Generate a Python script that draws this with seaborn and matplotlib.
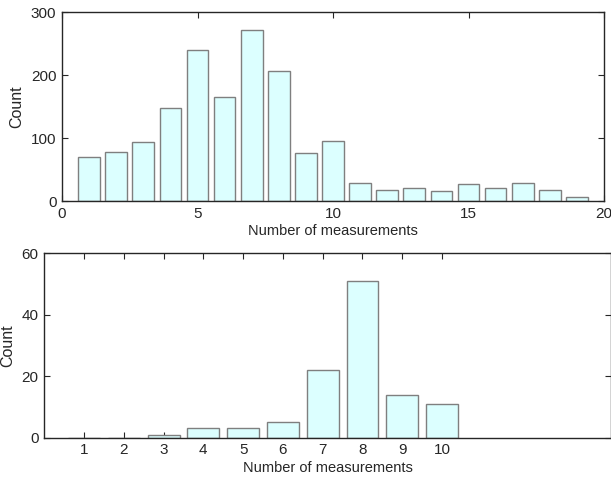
import matplotlib
matplotlib.use("Agg")
import matplotlib.pyplot as plt
import seaborn as sns
import pandas as pd

# data
top_x = list(range(1, 20))
top_counts = [70, 77, 94, 148, 240, 165, 272, 207, 76, 95, 29, 18, 21, 16, 27, 20, 28, 17, 7]
bot_x = list(range(1, 11))
bot_counts = [0, 0, 1, 3, 3, 5, 22, 51, 14, 11]
top_xticks = [0, 5, 10, 15, 20]
top_yticks = [0, 100, 200, 300]
bot_yticks = [0, 20, 40, 60]
xlabel = "Number of measurements"
ylabel = "Count"

sns.set_style("ticks")
plt.rcParams['font.family'] = ['Liberation Sans', 'DejaVu Sans']
plt.rcParams['font.size'] = 10.5
txt = '#262626'

fig = plt.figure(figsize=(6.11, 4.82), dpi=100)
ax1 = fig.add_axes([62/611, 1-201/482, (604-62)/611, (201-12)/482])
ax2 = fig.add_axes([44.3/611, 1-437.7/482, (611-44.3)/611, (437.7-253.3)/482])

fill = '#dcffff'
edge = '#7f7f7f'

df1 = pd.DataFrame({'x': top_x, 'y': top_counts})
df2 = pd.DataFrame({'x': bot_x, 'y': bot_counts})

sns.barplot(data=df1, x='x', y='y', native_scale=True, width=0.8, color=fill,
            saturation=1, edgecolor=edge, linewidth=1.0, ax=ax1)
sns.barplot(data=df2, x='x', y='y', native_scale=True, width=0.8, color=fill,
            saturation=1, edgecolor=edge, linewidth=1.0, ax=ax2)

ax1.set_xlim(0, 20)
ax1.set_ylim(0, 300)
ax1.set_xticks(top_xticks)
ax1.set_yticks(top_yticks)
ax2.set_xlim(0, 14.25)
ax2.set_ylim(0, 60)
ax2.set_xticks(bot_x)
ax2.set_yticks(bot_yticks)

for ax in (ax1, ax2):
    ax.set_xlabel(xlabel, color=txt, labelpad=2.5, fontsize=10.5)
    ax.set_ylabel(ylabel, color=txt, labelpad=5, fontsize=11.5)
    ax.tick_params(direction='in', top=True, right=True, length=4, width=0.8,
                   colors=txt, labelsize=11, pad=4)
    for s in ax.spines.values():
        s.set_visible(True)
        s.set_color(txt)
        s.set_linewidth(1.0)

fig.savefig("out.png", dpi=100)
